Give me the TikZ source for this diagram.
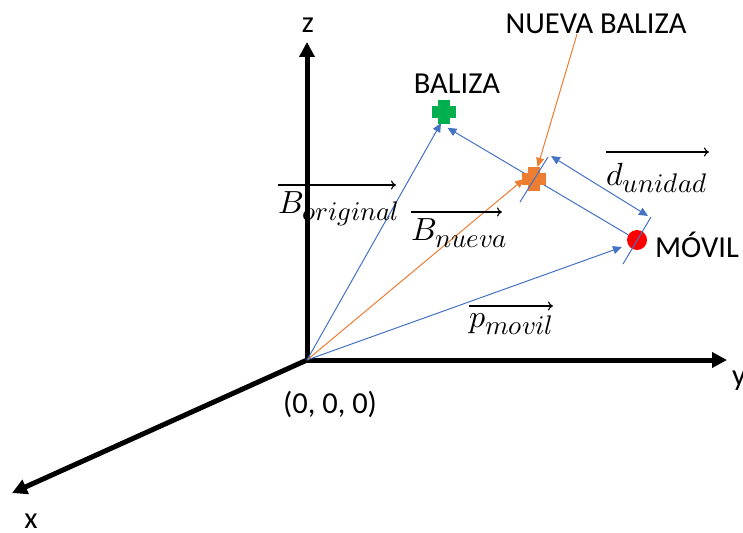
\documentclass[tikz,border=0pt]{standalone}
\usepackage{fontspec}
\usepackage{unicode-math}
\setmainfont{Carlito}
\setmathfont{Latin Modern Math}
\usetikzlibrary{arrows.meta,calc,backgrounds}
\definecolor{oblue}{HTML}{4472C4}
\definecolor{oorange}{HTML}{ED7D31}
\definecolor{ogreen}{HTML}{00B050}
\definecolor{ored}{HTML}{FF0000}
\newcommand{\bigsub}[1]{\scalebox{1.2}{$\scriptstyle #1$}}
\begin{document}
\begin{tikzpicture}[x=1pt,y=-1pt,
  axis/.style={line width=5pt,-{Triangle[length=15pt,width=15pt]}},
  barrow/.style={oblue,line width=1pt,-{Triangle[length=9pt,width=8pt]}},
  oarrow/.style={oorange,line width=1pt,-{Triangle[length=9pt,width=8pt]}},
  tick/.style={oblue,line width=1pt},
  lbl/.style={font=\fontsize{30.5}{36}\selectfont,inner sep=0pt},
  mlbl/.style={font=\fontsize{32}{38}\selectfont,inner sep=0pt,anchor=base west},
  varrow/.style={line width=1.1pt,-{To[length=5pt,width=9pt]}},
  plusmark/.style={minimum size=24pt,inner sep=0pt,
    path picture={
      \fill[#1] ([xshift=-6pt]path picture bounding box.north) rectangle ([xshift=6pt]path picture bounding box.south);
      \fill[#1] ([yshift=-6pt]path picture bounding box.west) rectangle ([yshift=6pt]path picture bounding box.east);}},
  dot/.style={circle,fill=ored,minimum size=20pt,inner sep=0pt}
]
\useasboundingbox (0,0) rectangle (743,532);

% markers
\node[plusmark=ogreen] (baliza) at (444,112) {};
\node[plusmark=oorange] (nueva) at (534,179) {};
\node[dot] (movil) at (637,240) {};

% origin and axis ends
\coordinate (O) at (307,360);
\coordinate (zend) at (307,42);
\coordinate (yend) at (727,360);
\coordinate (xend) at (12,493);

\begin{scope}[on background layer]
  \draw[axis] (O) -- (zend);
  \draw[axis] (O) -- (yend);
  \draw[axis] (O) -- (xend);
  \draw[barrow] (O) -- ([shift={(-3,11)}]baliza.center);
  \draw[oarrow] (O) -- ([xshift=-10pt]nueva.center);
  \draw[barrow] (O) -- ([shift={(-15,7)}]movil.center);
  \draw[barrow] (movil) -- ($(movil.center)!1.84!(nueva.center)$);
\end{scope}

% dimension d_unidad
\draw[tick] ([shift={(-14,23)}]nueva.center) -- ([shift={(14,-22)}]nueva.center);
\draw[tick] ([shift={(-14,24)}]movil.center) -- ([shift={(14,-23)}]movil.center);
\draw[tick,{Triangle[length=9pt,width=8pt]}-{Triangle[length=9pt,width=8pt]}]
  ([shift={(17,-23)}]nueva.center) -- ([shift={(11,-24)}]movil.center);

% text labels
\node[lbl] (zl) at (308,25) {z};
\node[lbl] (yl) at (739,381) {y};
\node[lbl] (xl) at (31,521) {x};
\node[lbl] (orig) at (330,404) {(0, 0, 0)};
\node[lbl] (bl) at (457,84) {BALIZA};
\node[lbl] (nbl) at (596,24) {NUEVA BALIZA};
\node[lbl] (ml) at (697,245) {MÓVIL};

\draw[oarrow] ([xshift=-19pt]nbl.south) -- (nueva);

% vector labels
\node[mlbl] (bo) at (278,213) {$B_{\bigsub{original}}$};
\draw[varrow] ([yshift=28pt]bo.base west) -- ++(118,0);
\node[mlbl] (bn) at (411,240) {$B_{\bigsub{nueva}}$};
\draw[varrow] ([yshift=28pt]bn.base west) -- ++(91,0);
\node[mlbl] (pm) at (469,327) {$p_{\bigsub{movil}}$};
\draw[varrow] ([yshift=21pt]pm.base west) -- ++(84,0);
\node[mlbl] (du) at (606,185) {$d_{\bigsub{unidad}}$};
\draw[varrow] ([yshift=33pt]du.base west) -- ++(103,0);
\end{tikzpicture}
\end{document}
